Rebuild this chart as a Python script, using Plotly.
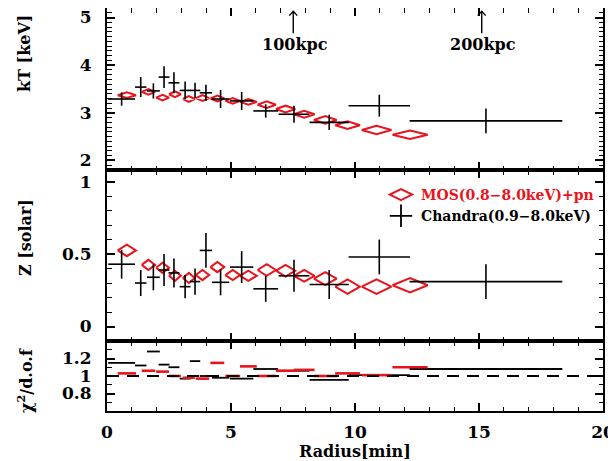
import plotly.graph_objects as go

# ---------------- data ----------------
# Chandra (0.9-8.0 keV) annuli
chandra_r = [0.59, 1.36, 1.87, 2.30, 2.70, 3.15, 3.55, 3.99, 4.58, 5.43, 6.40, 7.54, 8.96, 10.98, 15.28]
chandra_r_err = [0.54, 0.23, 0.26, 0.22, 0.22, 0.22, 0.21, 0.25, 0.35, 0.47, 0.50, 0.62, 0.79, 1.24, 3.08]
chandra_kt = [3.29, 3.54, 3.46, 3.75, 3.63, 3.47, 3.47, 3.42, 3.29, 3.25, 3.04, 2.97, 2.80, 3.15, 2.83]
chandra_kt_err = [0.14, 0.21, 0.16, 0.23, 0.22, 0.19, 0.16, 0.17, 0.19, 0.19, 0.14, 0.18, 0.16, 0.23, 0.26]
chandra_z = [0.43, 0.30, 0.34, 0.39, 0.37, 0.275, 0.31, 0.525, 0.305, 0.41, 0.26, 0.35, 0.29, 0.48, 0.31]
chandra_z_err = [0.10, 0.09, 0.09, 0.11, 0.10, 0.08, 0.09, 0.12, 0.09, 0.11, 0.09, 0.11, 0.10, 0.12, 0.12]
chandra_chi = [1.15, 1.12, 1.28, 1.13, 1.10, 0.97, 1.17, 1.00, 0.98, 0.97, 1.08, 1.06, 0.955, 1.01, 1.08]

# XMM MOS(0.8-8.0 keV)+pn annuli
xmm_r = [0.80, 1.67, 2.24, 2.74, 3.30, 3.85, 4.45, 5.07, 5.70, 6.44, 7.20, 7.95, 8.80, 9.70, 10.87, 12.22]
xmm_r_err = [0.37, 0.27, 0.26, 0.24, 0.24, 0.27, 0.28, 0.30, 0.34, 0.37, 0.39, 0.42, 0.46, 0.50, 0.60, 0.71]
xmm_kt = [3.37, 3.44, 3.32, 3.39, 3.29, 3.31, 3.30, 3.25, 3.23, 3.17, 3.08, 2.97, 2.85, 2.74, 2.64, 2.54]
xmm_kt_err = [0.06, 0.06, 0.06, 0.06, 0.06, 0.06, 0.06, 0.06, 0.06, 0.07, 0.07, 0.07, 0.08, 0.08, 0.09, 0.09]
xmm_z = [0.525, 0.425, 0.405, 0.35, 0.335, 0.355, 0.41, 0.355, 0.35, 0.39, 0.385, 0.35, 0.33, 0.275, 0.275, 0.285]
xmm_z_err = [0.04, 0.035, 0.035, 0.035, 0.035, 0.035, 0.035, 0.035, 0.035, 0.04, 0.04, 0.04, 0.045, 0.05, 0.05, 0.05]
xmm_chi = [1.03, 1.06, 1.05, 1.00, 0.98, 0.97, 1.15, 1.00, 1.11, 1.00, 1.06, 1.07, 1.00, 1.03, 1.01, 1.10]

# physical scale markers
kpc_labels = ["100kpc", "200kpc"]
kpc_r = [7.51, 15.11]

RED = "#e8141c"
FONT = "DejaVu Serif"


def diamonds(xc, xe, yc, ye):
    xs, ys = [], []
    for x, dx, y, dy in zip(xc, xe, yc, ye):
        xs += [x - dx, x, x + dx, x, x - dx, None]
        ys += [y, y + dy, y, y - dy, y, None]
    return xs, ys


fig = go.Figure()

# --- kT panel ---
dx, dy = diamonds(xmm_r, xmm_r_err, xmm_kt, xmm_kt_err)
fig.add_trace(go.Scatter(x=dx, y=dy, mode="lines", line=dict(color=RED, width=2),
                         xaxis="x", yaxis="y", showlegend=False, hoverinfo="skip"))
fig.add_trace(go.Scatter(x=chandra_r, y=chandra_kt, mode="markers", marker=dict(size=1, color="black"),
                         error_x=dict(type="data", array=chandra_r_err, width=0, thickness=1.6, color="black"),
                         error_y=dict(type="data", array=chandra_kt_err, width=0, thickness=1.6, color="black"),
                         xaxis="x", yaxis="y", showlegend=False))

# --- Z panel ---
dx, dy = diamonds(xmm_r, xmm_r_err, xmm_z, xmm_z_err)
fig.add_trace(go.Scatter(x=dx, y=dy, mode="lines", line=dict(color=RED, width=2),
                         xaxis="x2", yaxis="y2", showlegend=False, hoverinfo="skip"))
fig.add_trace(go.Scatter(x=chandra_r, y=chandra_z, mode="markers", marker=dict(size=1, color="black"),
                         error_x=dict(type="data", array=chandra_r_err, width=0, thickness=1.6, color="black"),
                         error_y=dict(type="data", array=chandra_z_err, width=0, thickness=1.6, color="black"),
                         xaxis="x2", yaxis="y2", showlegend=False))

# legend entries
fig.add_trace(go.Scatter(x=[None], y=[None], mode="markers", xaxis="x2", yaxis="y2",
                         marker=dict(symbol="diamond-wide-open", size=17, color=RED, line=dict(width=2, color=RED)),
                         name='<span style="color:%s">MOS(0.8\u22128.0keV)+pn</span>' % RED))
fig.add_trace(go.Scatter(x=[None], y=[None], mode="markers", xaxis="x2", yaxis="y2",
                         marker=dict(symbol="cross-thin-open", size=17, color="black", line=dict(width=1.8, color="black")),
                         name="Chandra(0.9\u22128.0keV)"))

# --- chi2 panel ---
fig.add_trace(go.Scatter(x=chandra_r, y=chandra_chi, mode="markers", marker=dict(size=1, color="black"),
                         error_x=dict(type="data", array=chandra_r_err, width=0, thickness=1.8, color="black"),
                         xaxis="x3", yaxis="y3", showlegend=False))
fig.add_trace(go.Scatter(x=xmm_r, y=xmm_chi, mode="markers", marker=dict(size=1, color=RED),
                         error_x=dict(type="data", array=xmm_r_err, width=0, thickness=2.6, color=RED),
                         xaxis="x3", yaxis="y3", showlegend=False))

# ---------------- layout ----------------
# the page body adds an 8px offset; positions below are in window pixels
OFF = 8
WIN_W, WIN_H = 616, 461
LEFT, RIGHT, TOP, BOTTOM = 107, 603, 8, 411
PW = RIGHT - LEFT
PH = BOTTOM - TOP
y_chi_top = (BOTTOM - 341) / PH
y_z_top = (BOTTOM - 170) / PH


def px(xw):
    return (xw - LEFT) / PW


def py(yw):
    return (BOTTOM - yw) / PH


tickfont = dict(family=FONT, size=17, color="black", weight="bold")


def xax(anchor, labels):
    return dict(range=[0, 20], anchor=anchor, showline=True, linewidth=2, linecolor="black",
                mirror="allticks", ticks="inside", ticklen=8, tickwidth=1.6, tickcolor="black",
                dtick=5, tick0=0, showgrid=False, zeroline=False, showticklabels=labels,
                tickfont=tickfont, ticklabelstandoff=5, automargin=False, ticklabeloverflow="allow",
                minor=dict(ticks="inside", ticklen=4.5, tickwidth=1.4, dtick=1, tickcolor="black", showgrid=False))


def yax(anchor, rng, domain, tickvals, minor_dtick):
    return dict(range=rng, domain=domain, anchor=anchor, showline=True, linewidth=2, linecolor="black",
                mirror="allticks", ticks="inside", ticklen=8, tickwidth=1.6, tickcolor="black",
                tickvals=tickvals, showgrid=False, zeroline=False, tickfont=tickfont,
                ticklabelstandoff=10, automargin=False, ticklabeloverflow="allow",
                minor=dict(ticks="inside", ticklen=4.5, tickwidth=1.4, dtick=minor_dtick, tick0=0,
                           tickcolor="black", showgrid=False))


fig.update_layout(
    width=WIN_W - OFF, height=WIN_H - OFF,
    margin=dict(l=LEFT - OFF, r=WIN_W - RIGHT, t=TOP - OFF, b=WIN_H - BOTTOM, autoexpand=False),
    paper_bgcolor="white", plot_bgcolor="white",
    xaxis=xax("y", False),
    xaxis2=xax("y2", False),
    xaxis3=xax("y3", True),
    yaxis=yax("x", [1.8, 5.2], [y_z_top, 1], [2, 3, 4, 5], 0.1),
    yaxis2=yax("x2", [-0.1, 1.08], [y_chi_top, y_z_top], [0, 0.5, 1], 0.1),
    yaxis3=yax("x3", [0.6, 1.4], [0, y_chi_top], [0.8, 1, 1.2], 0.1),
    legend=dict(x=px(381), y=py(179), xanchor="left", yanchor="top", bgcolor="rgba(0,0,0,0)",
                font=dict(family=FONT, size=14, color="black", weight="bold"),
                tracegroupgap=0, itemwidth=30),
    showlegend=True,
)

# chi2 = 1 reference line
fig.add_shape(type="line", xref="x3", yref="y3", x0=0, x1=20, y0=1, y1=1,
              line=dict(color="black", width=2, dash="12px,8px"))

# kpc arrows and labels
for lab, xr in zip(kpc_labels, kpc_r):
    fig.add_shape(type="line", xref="x", yref="y", x0=xr, x1=xr, y0=4.67, y1=5.13,
                  line=dict(color="black", width=1.4))
    fig.add_shape(type="path", xref="x", yref="y",
                  path="M %f,%f L %f,%f L %f,%f" % (xr - 0.16, 5.04, xr, 5.13, xr + 0.16, 5.04),
                  line=dict(color="black", width=1.4))
    fig.add_annotation(x=xr + 0.06, y=4.44, xref="x", yref="y", text=lab, showarrow=False,
                       xanchor="center", yanchor="middle",
                       font=dict(family=FONT, size=16, color="black", weight="bold"))

titlefont = dict(family=FONT, size=16, color="black", weight="bold")
common = dict(xref="paper", yref="paper", showarrow=False, xanchor="center", yanchor="middle", font=titlefont)
fig.add_annotation(text="Radius[min]", x=0.5, y=py(451), **common)
fig.add_annotation(text="kT [keV]", x=px(25), y=py(54), textangle=-90, **common)
fig.add_annotation(text="Z [solar]", x=px(25), y=py(238), textangle=-90, **common)
fig.add_annotation(text="\u03c7<sup>2</sup>/d.o.f", x=px(25), y=py(381), textangle=-90, **common)

fig.write_html("out.html")
